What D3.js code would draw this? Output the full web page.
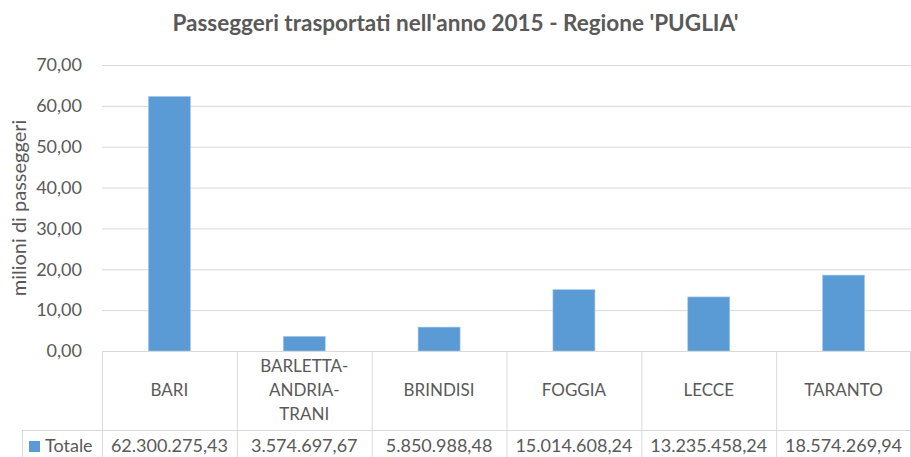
<!DOCTYPE html>
<html>
<head>
<meta charset="utf-8">
<script src="https://cdn.jsdelivr.net/npm/d3@7"></script>
<style>
  body { margin: 0; background: #fff; }
  text { font-family: Lato, "Open Sans", sans-serif; fill: #595959; }
</style>
</head>
<body>
<div id="chart"></div>
<script>
// data
const provinces = [["BARI"], ["BARLETTA-", "ANDRIA-", "TRANI"], ["BRINDISI"], ["FOGGIA"], ["LECCE"], ["TARANTO"]]
const passengers = [62300275.43, 3574697.67, 5850988.48, 15014608.24, 13235458.24, 18574269.94]
const yTicks = [0, 10, 20, 30, 40, 50, 60, 70]
const seriesName = "Totale"

const W = 911, H = 457
const plot = {left: 102, right: 911, top: 65, bottom: 351}

const svg = d3.select("#chart")
  .append("svg")
    .attr("width", W)
    .attr("height", H)

const it = d3.formatLocale({decimal: ",", thousands: ".", grouping: [3], currency: ["€", ""]})
const fmtTick = it.format(",.2f")
const fmtVal = it.format(",.2f")

// scales
const x = d3.scaleBand()
  .domain(d3.range(provinces.length))
  .range([plot.left, plot.right])
  .paddingInner(0)
  .paddingOuter(0)

const y = d3.scaleLinear()
  .domain([0, 70])
  .range([plot.bottom, plot.top])

// gridlines
svg.append("g")
  .selectAll("line")
  .data(yTicks.slice(1))
  .join("line")
    .attr("x1", plot.left)
    .attr("x2", plot.right)
    .attr("y1", d => y(d) + 0.5)
    .attr("y2", d => y(d) + 0.5)
    .attr("stroke", "#d9d9d9")
    .attr("stroke-width", 1)

// y tick labels
svg.append("g")
  .selectAll("text")
  .data(yTicks)
  .join("text")
    .attr("x", 82)
    .attr("y", d => y(d))
    .attr("dy", "0.35em")
    .attr("text-anchor", "end")
    .style("font-size", "18px")
    .text(d => fmtTick(d))

// bars
const barW = 42
svg.append("g")
  .selectAll("rect")
  .data(passengers)
  .join("rect")
    .attr("x", (d, i) => x(i) + x.bandwidth() / 2 - barW / 2)
    .attr("y", d => y(d / 1e6))
    .attr("width", barW)
    .attr("height", d => y(0) - y(d / 1e6))
    .attr("fill", "#5b9bd5")
    .attr("stroke", "#a9c8ea")
    .attr("stroke-width", 0.6)

// data table
const tableTop = plot.bottom, rowSplit = 430, tableLeft = 22
const tbl = svg.append("g").attr("stroke", "#d9d9d9").attr("stroke-width", 1)
tbl.append("line")
  .attr("x1", plot.left).attr("x2", plot.right)
  .attr("y1", tableTop + 0.5).attr("y2", tableTop + 0.5)
tbl.append("line")
  .attr("x1", tableLeft).attr("x2", plot.right)
  .attr("y1", rowSplit + 0.5).attr("y2", rowSplit + 0.5)
tbl.append("line")
  .attr("x1", tableLeft + 0.5).attr("x2", tableLeft + 0.5)
  .attr("y1", rowSplit).attr("y2", H)
tbl.selectAll(".vline")
  .data(d3.range(provinces.length + 1))
  .join("line")
    .attr("x1", i => (i < provinces.length ? x(i) : plot.right - 1) + 0.5)
    .attr("x2", i => (i < provinces.length ? x(i) : plot.right - 1) + 0.5)
    .attr("y1", tableTop)
    .attr("y2", H)

// category labels
const lineH = 24
svg.append("g")
  .selectAll("text")
  .data(provinces)
  .join("text")
    .attr("text-anchor", "middle")
    .style("font-size", "17px")
    .each(function(lines, i) {
      const cy = (tableTop + rowSplit) / 2
      d3.select(this).selectAll("tspan")
        .data(lines)
        .join("tspan")
          .attr("x", x(i) + x.bandwidth() / 2)
          .attr("y", (l, j) => cy + (j - (lines.length - 1) / 2) * lineH)
          .attr("dy", "0.35em")
          .text(l => l)
    })

// values row
svg.append("g")
  .selectAll("text")
  .data(passengers)
  .join("text")
    .attr("x", (d, i) => x(i) + x.bandwidth() / 2)
    .attr("y", 446)
    .attr("dy", "0.35em")
    .attr("text-anchor", "middle")
    .style("font-size", "18px")
    .text(d => fmtVal(d))

// legend key in table
svg.append("rect")
  .attr("x", 29).attr("y", 441)
  .attr("width", 11).attr("height", 11)
  .attr("fill", "#5b9bd5")
svg.append("text")
  .attr("x", 45).attr("y", 446)
  .attr("dy", "0.35em")
  .style("font-size", "18px")
  .text(seriesName)

// title
svg.append("text")
  .attr("x", W / 2)
  .attr("y", 23)
  .attr("dy", "0.35em")
  .attr("text-anchor", "middle")
  .style("font-size", "22.5px")
  .style("font-weight", "bold")
  .text("Passeggeri trasportati nell'anno 2015 - Regione 'PUGLIA'")

// y axis label
svg.append("text")
  .attr("transform", `translate(19, ${(plot.top + plot.bottom) / 2 + 0}) rotate(-90)`)
  .attr("dy", "0.35em")
  .attr("text-anchor", "middle")
  .style("font-size", "20px")
  .text("milioni di passeggeri")
</script>
</body>
</html>
